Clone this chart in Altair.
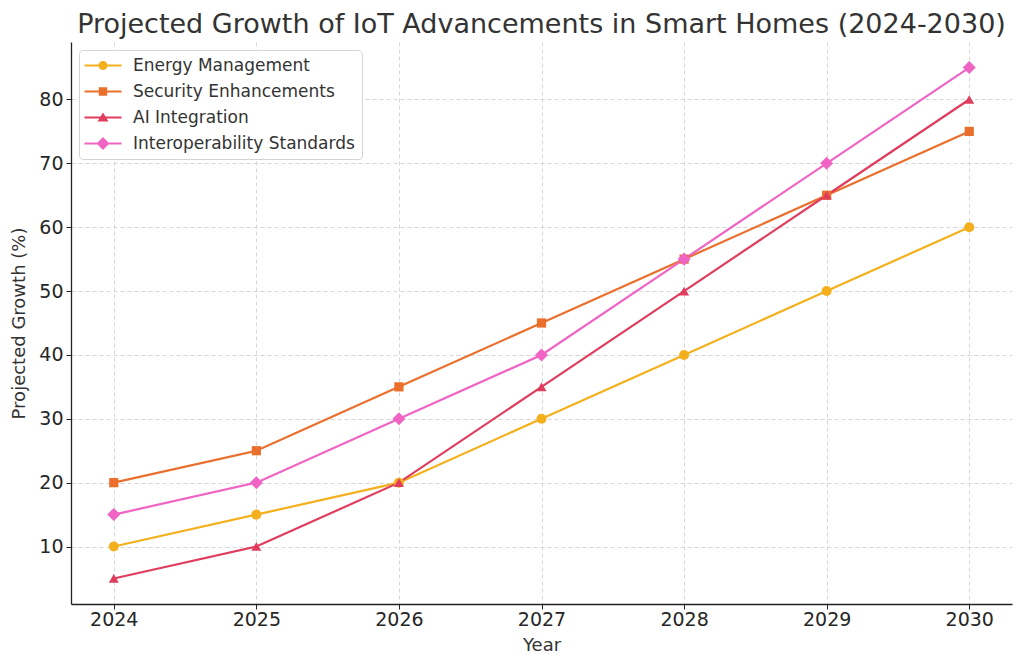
import altair as alt
import pandas as pd

years = [2024, 2025, 2026, 2027, 2028, 2029, 2030]
series_names = ["Energy Management", "Security Enhancements", "AI Integration", "Interoperability Standards"]
energy = [10, 15, 20, 30, 40, 50, 60]
security = [20, 25, 35, 45, 55, 65, 75]
ai = [5, 10, 20, 35, 50, 65, 80]
interop = [15, 20, 30, 40, 55, 70, 85]
colors = ["#f4b01c", "#ea6f2c", "#e03c5e", "#f064c4"]
marker_shapes = ["circle", "square", "triangle-up", "diamond"]
marker_sizes = [100, 85, 100, 170]
y_ticks = [10, 20, 30, 40, 50, 60, 70, 80]

values = [energy, security, ai, interop]
rows = []
for name, vals in zip(series_names, values):
    for yr, v in zip(years, vals):
        rows.append({"Year": yr, "Growth": v, "Series": name})
df = pd.DataFrame(rows)

FONT = "DejaVu Sans"

# legend symbols: line segment + marker (unit = 8 px, symbol size 256)
LINE = "M-1.25,-0.125H3.375V0.125H-1.25Z"
legend_paths = [
    LINE + "M0.5,0A0.5625,0.5625 0 1,1 1.625,0A0.5625,0.5625 0 1,1 0.5,0Z",
    LINE + "M0.5375,-0.525H1.5875V0.525H0.5375Z",
    LINE + "M1.0625,-0.625L1.7525,0.5L0.3725,0.5Z",
    LINE + "M1.0625,-0.81L1.8725,0L1.0625,0.81L0.2525,0Z",
]

x_enc = alt.X("Year:Q", scale=alt.Scale(domain=[2023.7, 2030.3], nice=False, zero=False),
              axis=alt.Axis(values=years, format="d", title="Year", labelPadding=1, titlePadding=7))
y_enc = alt.Y("Growth:Q", scale=alt.Scale(domain=[1, 89], nice=False, zero=False),
              axis=alt.Axis(values=y_ticks, title="Projected Growth (%)"))
color_scale = alt.Scale(domain=series_names, range=colors)

base = alt.Chart(df)

lines = base.mark_line(strokeWidth=2.2).encode(
    x=x_enc, y=y_enc,
    color=alt.Color("Series:N", scale=color_scale, legend=None),
    detail="Series:N",
)

marker_layers = []
for name, shp, sz in zip(series_names, marker_shapes, marker_sizes):
    marker_layers.append(
        base.transform_filter(alt.datum.Series == name).mark_point(
            filled=True, shape=shp, size=sz, opacity=1
        ).encode(
            x=x_enc, y=y_enc,
            color=alt.Color("Series:N", scale=color_scale, legend=None),
        )
    )

legend_props = dict(
    title=None, orient="top-left", offset=8, fillColor="white", strokeColor="#d4d4d4",
    cornerRadius=4, padding=7, labelFontSize=17, labelColor="#333333", labelFont=FONT,
    labelOffset=30, symbolSize=256, symbolStrokeWidth=0, symbolOpacity=1,
    rowPadding=8, labelLimit=400,
)

legend_layer = base.transform_filter("false").mark_point(filled=True, opacity=1).encode(
    x=x_enc, y=y_enc,
    color=alt.Color("Series:N", scale=color_scale, legend=alt.Legend(**legend_props)),
    shape=alt.Shape("Series:N", scale=alt.Scale(domain=series_names, range=legend_paths),
                    legend=alt.Legend(**legend_props)),
)

chart = alt.layer(lines, *marker_layers, legend_layer).resolve_scale(
    color="independent", shape="independent"
).resolve_legend(color="independent", shape="independent").properties(
    width=941, height=562,
    autosize="none",
    padding={"left": 63, "top": 34, "right": 4, "bottom": 57},
    title=alt.TitleParams(
        "Projected Growth of IoT Advancements in Smart Homes (2024-2030)",
        font=FONT, fontSize=27, fontWeight="normal", color="#333333",
        anchor="middle", offset=3,
    ),
).configure_view(stroke=None).configure_axis(
    labelFont=FONT, titleFont=FONT, labelFontSize=19, titleFontSize=18,
    labelColor="#262626", titleColor="#333333", titleFontWeight="normal",
    domainColor="#222222", domainWidth=1.3, tickColor="#222222", tickSize=5,
    labelPadding=3, titlePadding=10,
    gridColor="#cccccc", gridDash=[4, 3], gridWidth=0.8,
).configure_axisX(labelFlush=False)

chart.save("out.html", embed_options={"renderer": "svg", "actions": False})
